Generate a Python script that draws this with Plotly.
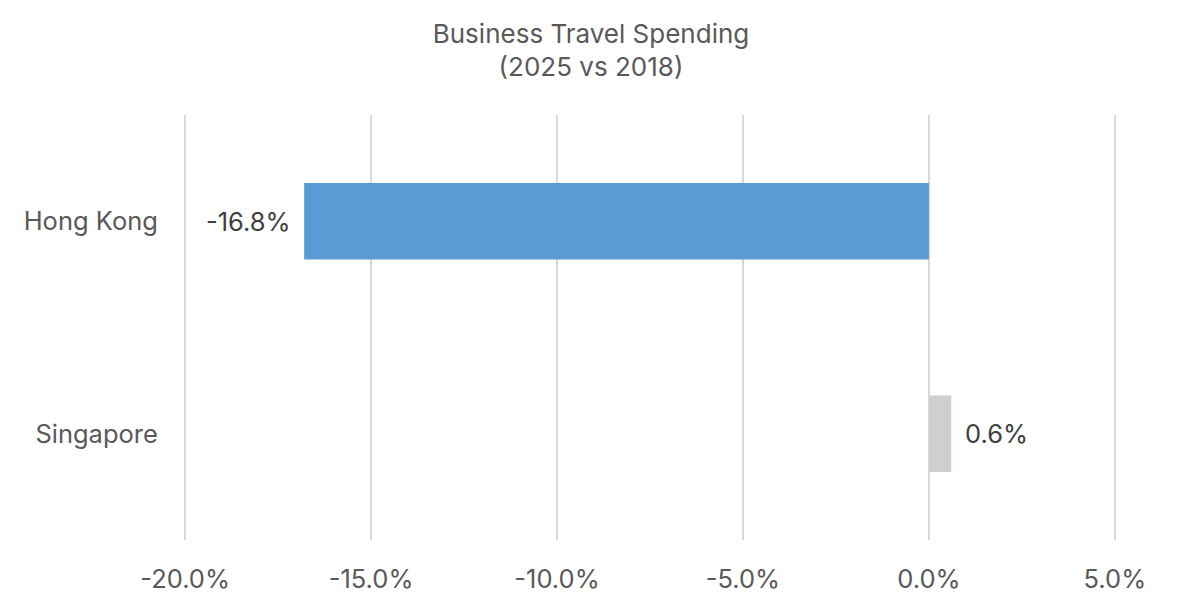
import plotly.graph_objects as go

# business travel spending change, 2025 vs 2018
cities = ["Hong Kong", "Singapore"]
change = [-0.168, 0.006]
bar_colors = ["#5B9BD5", "#D0CECE"]
tick_vals = [-0.20, -0.15, -0.10, -0.05, 0.0, 0.05]
tick_text = ["-20.0%", "-15.0%", "-10.0%", "-5.0%", "0.0%", "5.0%"]

FONT = "Inter"

fig = go.Figure()
fig.add_bar(
    x=change,
    y=cities,
    orientation="h",
    marker=dict(color=bar_colors, line=dict(width=0)),
    width=0.36,
    hoverinfo="x+y",
)

# data labels, pushed a bit away from the bar ends
for c, v in zip(cities, change):
    fig.add_annotation(
        x=v, y=c,
        text=f"{v*100:.1f}%",
        showarrow=False,
        xanchor="right" if v < 0 else "left",
        xshift=-11 if v < 0 else 12,
        font=dict(family=FONT, size=25.5, color="#404040"),
    )

# page body adds ~8px offset, so margins are shifted to compensate
fig.update_layout(
    width=1200,
    height=606,
    paper_bgcolor="white",
    plot_bgcolor="white",
    font=dict(family=FONT, color="#595959"),
    title=dict(
        text="Business Travel Spending<br>(2025 vs 2018)",
        x=583 / 1200,
        xanchor="center",
        y=1 - 34.5 / 606,
        yanchor="middle",
        font=dict(family=FONT, size=26, color="#595959"),
    ),
    margin=dict(l=176, r=92, t=107, b=74, autoexpand=False),
    showlegend=False,
)
fig.update_xaxes(
    range=[-0.2003, 0.0503],
    tickvals=tick_vals,
    ticktext=tick_text,
    tickfont=dict(family=FONT, size=25.5, color="#595959"),
    showgrid=True,
    gridcolor="#D9D9D9",
    gridwidth=1.5,
    zeroline=False,
    ticks="outside",
    ticklen=16,
    tickcolor="rgba(0,0,0,0)",
    automargin=False,
)
fig.update_yaxes(
    categoryorder="array",
    categoryarray=cities[::-1],
    tickfont=dict(family=FONT, size=25.5, color="#595959"),
    ticks="outside",
    ticklen=20,
    tickcolor="rgba(0,0,0,0)",
    showgrid=False,
    zeroline=False,
    automargin=False,
)

fig.write_html("out.html")
